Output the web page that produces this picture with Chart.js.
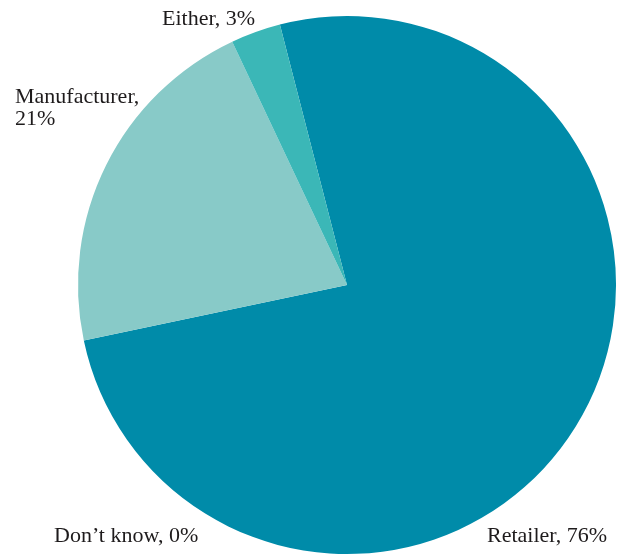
<!DOCTYPE html>
<html>
<head>
<meta charset="utf-8">
<script src="https://cdn.jsdelivr.net/npm/chart.js@4.4.0/dist/chart.umd.min.js"></script>
<style>
  html, body { margin: 0; padding: 0; background: #fff; overflow: hidden; }
  #wrap { position: absolute; left: 0; top: 0; width: 620px; height: 570px; }
</style>
</head>
<body>
<div id="wrap"><canvas id="pie"></canvas></div>
<script>
'use strict'

const categories = ['Retailer', "Don\u2019t know", 'Manufacturer', 'Either'];
const shares = [75.7, 0, 21.3, 3.0];
const labelTexts = [['Retailer, 76%'], ['Don\u2019t know, 0%'], ['Manufacturer,', '21%'], ['Either, 3%']];
const sliceColors = ['#008BA9', '#008BA9', '#88CAC8', '#3BB7B7'];

// where each label sits
const labelSpots = [
  { x: 487, y: 542 },
  { x: 54, y: 542 },
  { x: 15, y: 103 },
  { x: 162, y: 25 }
];

const labelPlugin = {
  id: 'sliceLabels',
  afterDraw(chart){
    const ctx = chart.ctx;
    ctx.save();
    ctx.font = '22px "Liberation Serif", serif';
    ctx.fillStyle = '#1e1b1c';
    ctx.textBaseline = 'alphabetic';
    ctx.textAlign = 'left';
    labelTexts.forEach(function(lines, k){
      const spot = labelSpots[k];
      lines.forEach(function(line, i){
        ctx.fillText(line, spot.x, spot.y + i * 22);
      });
    });
    ctx.restore();
  }
};

const ctx = document.getElementById('pie').getContext('2d');
const pieChart = new Chart(ctx, {
  type: 'pie',
  data: {
    labels: categories,
    datasets: [{
      data: shares,
      backgroundColor: sliceColors,
      borderWidth: 0
    }]
  },
  options: {
    responsive: true,
    maintainAspectRatio: false,
    animation: false,
    rotation: -14.45,
    layout: { padding: { left: 78, right: 4, top: 16, bottom: 16 } },
    plugins: {
      legend: { display: false },
      tooltip: { enabled: false }
    }
  },
  plugins: [labelPlugin]
});
</script>
</body>
</html>
